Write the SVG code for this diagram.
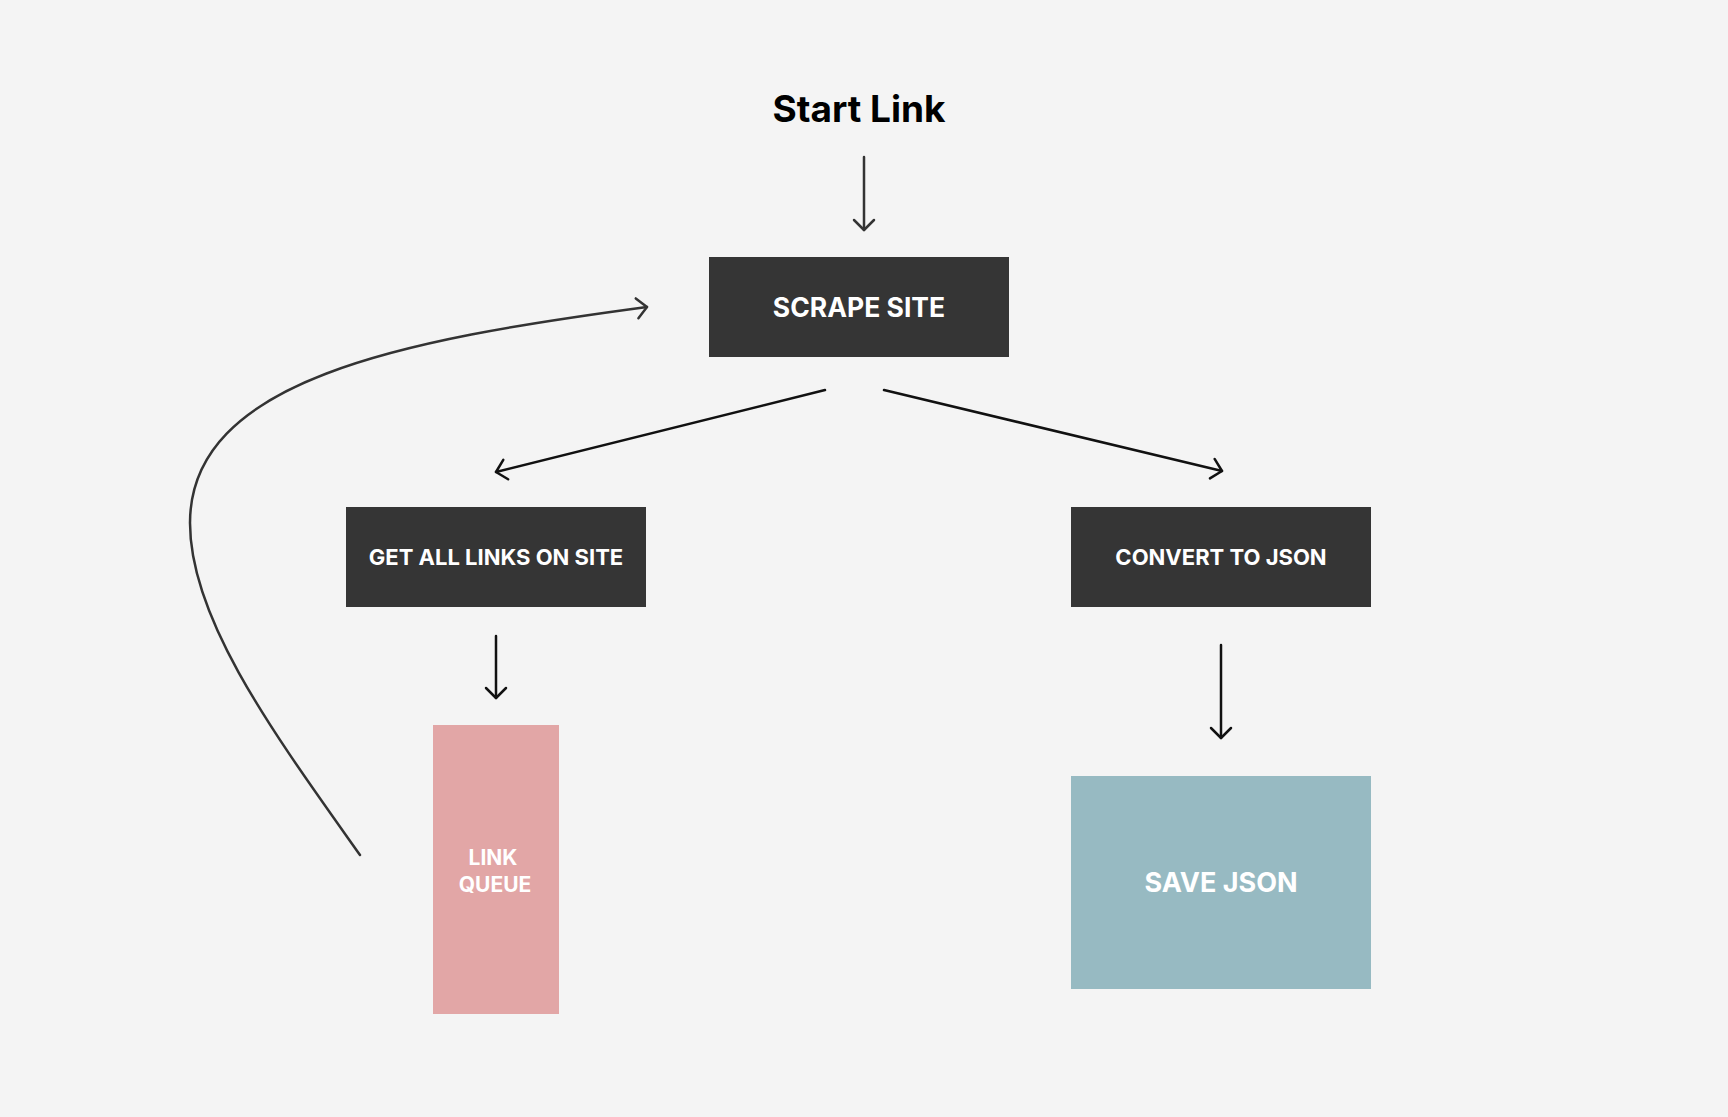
<svg xmlns="http://www.w3.org/2000/svg" width="1728" height="1117" viewBox="0 0 1728 1117">
  <style>
    .lbl { font-family: Inter, "Liberation Sans", Arial, sans-serif; font-weight: 700; fill: #ffffff; text-anchor: middle; }
    .title { font-family: Inter, "Liberation Sans", Arial, sans-serif; font-weight: 700; fill: #000000; text-anchor: middle; }
    .dark { fill: #353535; }
    .c1 { fill: none; stroke: #333333; stroke-width: 2.5; stroke-linecap: round; }
    .c2 { fill: none; stroke: #111111; stroke-width: 2.5; stroke-linecap: round; }
  </style>
  <defs>
    <marker id="ah1" markerUnits="userSpaceOnUse" viewBox="-14 -14 18 28" refX="0" refY="0" markerWidth="18" markerHeight="28" orient="auto" overflow="visible">
      <path d="M-10,-10 L0,0 L-10,10" fill="none" stroke="#333333" stroke-width="2.5" stroke-linecap="round" stroke-linejoin="round"/>
    </marker>
    <marker id="ah2" markerUnits="userSpaceOnUse" viewBox="-14 -14 18 28" refX="0" refY="0" markerWidth="18" markerHeight="28" orient="auto" overflow="visible">
      <path d="M-10,-10 L0,0 L-10,10" fill="none" stroke="#111111" stroke-width="2.5" stroke-linecap="round" stroke-linejoin="round"/>
    </marker>
  </defs>
  <rect x="0" y="0" width="1728" height="1117" fill="#f4f4f4"/>

  <g id="connectors">
    <path class="c1" d="M864,157 L864,230" marker-end="url(#ah1)"/>
    <path class="c1" d="M360,855 C275,735 190,620 190,523 C190,380 400,340 647,307" marker-end="url(#ah1)"/>
    <path class="c2" d="M825,390 L496,472" marker-end="url(#ah2)"/>
    <path class="c2" d="M884,390 L1222,471" marker-end="url(#ah2)"/>
    <path class="c2" d="M496,636 L496,698" marker-end="url(#ah2)"/>
    <path class="c2" d="M1221,645 L1221,738" marker-end="url(#ah2)"/>
  </g>

  <g id="start-link">
    <text class="title" x="859" y="122" font-size="37">Start Link</text>
  </g>

  <g id="scrape-site">
    <rect class="dark" x="709" y="257" width="300" height="100"/>
    <text class="lbl" x="859" y="317" font-size="26.5">SCRAPE SITE</text>
  </g>

  <g id="get-all-links">
    <rect class="dark" x="346" y="507" width="300" height="100"/>
    <text class="lbl" x="496" y="565" font-size="22">GET ALL LINKS ON SITE</text>
  </g>

  <g id="convert-to-json">
    <rect class="dark" x="1071" y="507" width="300" height="100"/>
    <text class="lbl" x="1221" y="565" font-size="22">CONVERT TO JSON</text>
  </g>

  <g id="link-queue">
    <rect x="433" y="725" width="126" height="289" fill="#e2a6a6"/>
    <text class="lbl" x="493" y="865" font-size="21">LINK</text>
    <text class="lbl" x="495" y="892" font-size="21">QUEUE</text>
  </g>

  <g id="save-json">
    <rect x="1071" y="776" width="300" height="213" fill="#97bac2"/>
    <text class="lbl" x="1221" y="892" font-size="27">SAVE JSON</text>
  </g>
</svg>
